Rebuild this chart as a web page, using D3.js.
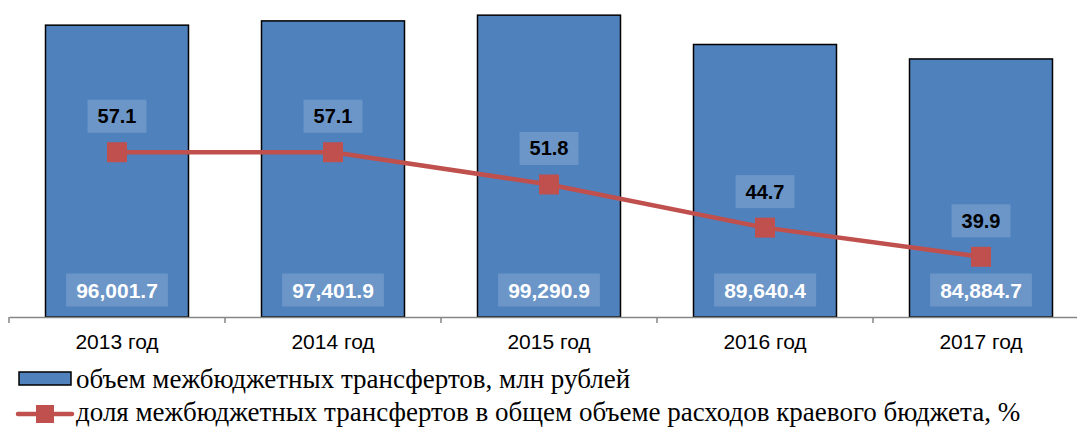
<!DOCTYPE html>
<html>
<head>
<meta charset="utf-8">
<script src="https://cdn.jsdelivr.net/npm/d3@7"></script>
<style>
  body { margin: 0; background: #fff; }
  svg { display: block; }
</style>
</head>
<body>
<main></main>
<script>
// chart data
const years = ["2013 год", "2014 год", "2015 год", "2016 год", "2017 год"];
const transfers = [96001.7, 97401.9, 99290.9, 89640.4, 84884.7];
const shares = [57.1, 57.1, 51.8, 44.7, 39.9];
const legendLabels = [
    "объем межбюджетных трансфертов, млн рублей",
    "доля межбюджетных трансфертов в общем объеме расходов краевого бюджета, %"
];

let width = 1077;
let height = 428;
const plot = { left: 9, right: 1089, top: 13, bottom: 317 };

const barColor = "#4f81bd";
const lineColor = "#c0504d";

let svg = d3.select("main")
    .append("svg")
    .attr("width", width)
    .attr("height", height);

let x = d3.scaleBand()
    .domain(years)
    .range([plot.left, plot.right])
    .paddingInner(0.338)
    .paddingOuter(0.169);

let y = d3.scaleLinear().domain([0, 100000]).range([plot.bottom, plot.top]);
let y2 = d3.scaleLinear().domain([30, 80]).range([plot.bottom, plot.top]);

const fmtBar = d3.format(",.1f");
const fmtLine = d3.format(".1f");

// bars
svg.append("g").attr("id", "bars")
    .selectAll("rect")
    .data(transfers)
    .join("rect")
    .attr("x", (d, i) => x(years[i]))
    .attr("y", d => y(d))
    .attr("width", x.bandwidth())
    .attr("height", d => y(0) - y(d))
    .attr("fill", barColor)
    .attr("stroke", "#000")
    .attr("stroke-width", 1.5);

// category axis
const axis = svg.append("g")
    .attr("transform", "translate(0," + plot.bottom + ")")
    .call(d3.axisBottom(x).tickSize(0).tickPadding(17));
axis.select(".domain")
    .attr("stroke", "#868686")
    .attr("stroke-width", 1.5);
axis.selectAll(".tick text")
    .attr("font-family", "Liberation Sans, Arial, sans-serif")
    .attr("font-size", 21)
    .attr("fill", "#000");

// category separators
const step = x.step();
svg.append("g").selectAll("line")
    .data(d3.range(years.length + 1))
    .join("line")
    .attr("x1", i => plot.left + i * step)
    .attr("x2", i => plot.left + i * step)
    .attr("y1", plot.bottom)
    .attr("y2", plot.bottom + 6)
    .attr("stroke", "#868686")
    .attr("stroke-width", 1.5);

// share line
const cx = i => x(years[i]) + x.bandwidth() / 2;
const line = d3.line()
    .x((d, i) => cx(i))
    .y(d => y2(d));

svg.append("path")
    .datum(shares)
    .attr("d", line)
    .attr("fill", "none")
    .attr("stroke", lineColor)
    .attr("stroke-width", 4.5);

svg.append("g").selectAll("rect")
    .data(shares)
    .join("rect")
    .attr("x", (d, i) => cx(i) - 10)
    .attr("y", d => y2(d) - 10)
    .attr("width", 20)
    .attr("height", 20)
    .attr("fill", lineColor);

// label with a light box behind it
function boxLabel(g, px, py, text, color, size) {
    const t = g.append("text")
        .attr("x", px)
        .attr("y", py)
        .attr("text-anchor", "middle")
        .attr("dominant-baseline", "central")
        .attr("font-family", "Liberation Sans, Arial, sans-serif")
        .attr("font-weight", "bold")
        .attr("font-size", size)
        .attr("fill", color)
        .text(text);
    const b = t.node().getBBox();
    g.insert("rect", "text")
        .attr("x", b.x - 10)
        .attr("y", py - 16.5)
        .attr("width", b.width + 20)
        .attr("height", 33)
        .attr("fill", "#fff")
        .attr("fill-opacity", 0.17);
}

const labels = svg.append("g").attr("id", "labels");
transfers.forEach((d, i) => {
    boxLabel(labels.append("g"), cx(i), 290, fmtBar(d), "#fff", 21);
});
shares.forEach((d, i) => {
    boxLabel(labels.append("g"), cx(i), y2(d) - 36, fmtLine(d), "#000", 20);
});

// legend
const legend = svg.append("g").attr("id", "legend");
legend.append("rect")
    .attr("x", 19)
    .attr("y", 372)
    .attr("width", 52)
    .attr("height", 13)
    .attr("fill", barColor)
    .attr("stroke", "#000")
    .attr("stroke-width", 1.5);
legend.append("line")
    .attr("x1", 18)
    .attr("x2", 72)
    .attr("y1", 414)
    .attr("y2", 414)
    .attr("stroke", lineColor)
    .attr("stroke-width", 4.5)
    .attr("stroke-linecap", "round");
legend.append("rect")
    .attr("x", 36)
    .attr("y", 405)
    .attr("width", 18)
    .attr("height", 18)
    .attr("fill", lineColor);

legend.selectAll("text")
    .data(legendLabels)
    .join("text")
    .attr("x", 76)
    .attr("y", (d, i) => 388 + i * 33)
    .attr("font-family", "Liberation Serif, Times New Roman, serif")
    .attr("font-size", 27)
    .attr("fill", "#000")
    .text(d => d);
</script>
</body>
</html>
